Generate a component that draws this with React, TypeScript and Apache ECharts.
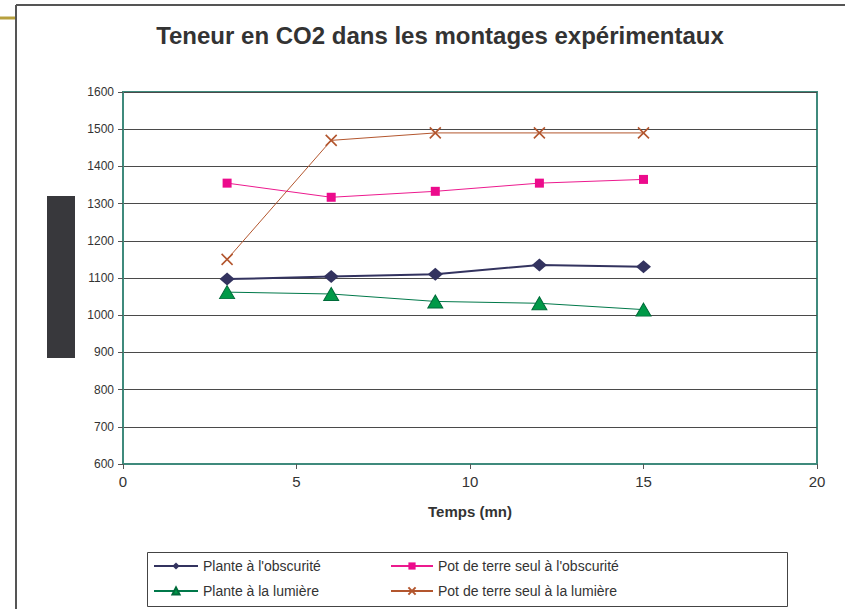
import React, { useEffect, useRef } from "react";
import * as echarts from "echarts";

const times = [3, 6, 9, 12, 15];
const planteObscurite = [1097, 1104, 1110, 1135, 1130];
const potObscurite = [1355, 1317, 1333, 1355, 1365];
const planteLumiere = [1062, 1057, 1037, 1032, 1015];
const potLumiere = [1150, 1470, 1490, 1490, 1490];

const seriesNames = [
  "Plante à l'obscurité",
  "Pot de terre seul à l'obscurité",
  "Plante à la lumière",
  "Pot de terre seul à la lumière",
];

const title = "Teneur en CO2 dans les montages expérimentaux";
const xTitle = "Temps (mn)";

const toPairs = (vals: number[]) => times.map((t, i) => [t, vals[i]]);

export default function App() {
  const ref = useRef<HTMLDivElement>(null);
  useEffect(() => {
    if (!ref.current) return;
    const chart = echarts.init(ref.current, undefined, { renderer: "svg" });
    const font = "Liberation Sans, Arial, sans-serif";
    const legendText = { fontFamily: font, fontSize: 14, color: "#333" };
    chart.setOption({
      animation: false,
      backgroundColor: "#ffffff",
      title: {
        text: title,
        left: 435,
        textAlign: "center",
        top: 18,
        textStyle: { fontFamily: font, fontSize: 24, fontWeight: "bold", color: "#333333" },
      },
      grid: {
        left: 123,
        top: 92,
        width: 694,
        height: 372,
        show: true,
        borderColor: "#3f8a7c",
        borderWidth: 2,
        backgroundColor: "#ffffff",
      },
      xAxis: {
        type: "value",
        min: 0,
        max: 20,
        interval: 5,
        name: xTitle,
        nameLocation: "middle",
        nameGap: 40,
        nameTextStyle: { fontFamily: font, fontSize: 15, fontWeight: "bold", color: "#333" },
        axisLine: { show: true, lineStyle: { color: "#3f8a7c", width: 2 } },
        axisTick: { show: true, length: 5, lineStyle: { color: "#555" } },
        axisLabel: { fontFamily: font, fontSize: 15, color: "#333", margin: 10 },
        splitLine: { show: false },
      },
      yAxis: {
        type: "value",
        min: 600,
        max: 1600,
        interval: 100,
        axisLine: { show: true, lineStyle: { color: "#3f8a7c", width: 2 } },
        axisTick: { show: true, length: 5, lineStyle: { color: "#555" } },
        axisLabel: {
          fontFamily: font,
          fontSize: 12,
          color: "#333",
          margin: 9,
          formatter: (v: number) => String(v),
        },
        splitLine: { show: true, lineStyle: { color: "#4a4a4a", width: 1 } },
      },
      legend: [
        {
          data: [seriesNames[0], seriesNames[2]],
          orient: "vertical",
          left: 153,
          top: 559,
          padding: 0,
          itemWidth: 44,
          itemHeight: 9,
          itemGap: 11,
          textStyle: legendText,
        },
        {
          data: [seriesNames[1], seriesNames[3]],
          orient: "vertical",
          left: 390,
          top: 559,
          padding: 0,
          itemWidth: 42,
          itemHeight: 9,
          itemGap: 11,
          textStyle: legendText,
        },
      ],
      graphic: [
        { type: "line", shape: { x1: 16, y1: 5, x2: 845, y2: 5 }, style: { stroke: "#555", lineWidth: 2 } },
        { type: "line", shape: { x1: 16, y1: 5, x2: 16, y2: 609 }, style: { stroke: "#555", lineWidth: 2 } },
        { type: "line", shape: { x1: 0, y1: 18, x2: 15, y2: 18 }, style: { stroke: "#b7a03e", lineWidth: 3 } },
        { type: "rect", shape: { x: 47, y: 196, width: 28, height: 162 }, style: { fill: "#38383c" } },
        {
          type: "rect",
          shape: { x: 147.5, y: 552.5, width: 640, height: 54 },
          style: { fill: "none", stroke: "#444", lineWidth: 1 },
          z: -1,
        },
      ],
      series: [
        {
          name: seriesNames[0],
          type: "line",
          data: toPairs(planteObscurite),
          symbol: "diamond",
          symbolSize: [15, 13],
          lineStyle: { color: "#33335f", width: 2 },
          itemStyle: { color: "#33335f" },
        },
        {
          name: seriesNames[1],
          type: "line",
          data: toPairs(potObscurite),
          symbol: "rect",
          symbolSize: 9,
          lineStyle: { color: "#ec1a8e", width: 1 },
          itemStyle: { color: "#ec0b8c" },
        },
        {
          name: seriesNames[2],
          type: "line",
          data: toPairs(planteLumiere),
          symbol: "triangle",
          symbolSize: [15, 13],
          lineStyle: { color: "#00784a", width: 1 },
          itemStyle: { color: "#009a48", borderColor: "#006b3a", borderWidth: 1 },
        },
        {
          name: seriesNames[3],
          type: "line",
          data: toPairs(potLumiere),
          symbol: "path://M0,0L10,10M10,0L0,10",
          symbolSize: 11,
          lineStyle: { color: "#b3562e", width: 1 },
          itemStyle: { color: "#b3562e", borderColor: "#b3562e", borderWidth: 1.6 },
        },
      ],
    });
    return () => chart.dispose();
  }, []);
  return (
    <div
      ref={ref}
      style={{ position: "fixed", left: 0, top: 0, width: 845, height: 609 }}
    />
  );
}
